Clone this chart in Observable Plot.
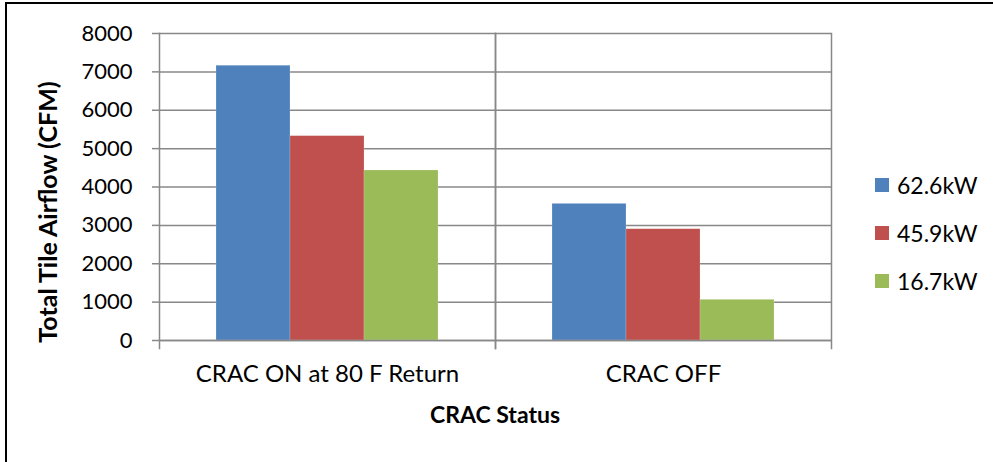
<!DOCTYPE html>
<html>
<head>
<meta charset="utf-8">
<script src="https://cdn.jsdelivr.net/npm/d3@7"></script>
<script src="https://cdn.jsdelivr.net/npm/@observablehq/plot@0.6"></script>
<style>
  html, body { margin: 0; padding: 0; background: #fff; }
  #wrap { position: relative; width: 993px; height: 462px; overflow: hidden; font-family: Lato, "Open Sans", sans-serif; }
  #border { position: absolute; left: 5px; top: 2px; width: 990px; height: 470px; border-left: 2px solid #000; border-top: 2px solid #000; }
  .ylab { position: absolute; left: 47px; top: 212px; transform: translate(-50%, -50%) rotate(-90deg); font-weight: bold; font-size: 25px; white-space: nowrap; color: #000; }
  .xlab { position: absolute; left: 495px; top: 414px; transform: translate(-50%, -50%); font-weight: bold; font-size: 23px; white-space: nowrap; color: #000; }
  .legend { position: absolute; left: 875px; font-size: 23px; color: #000; display: flex; align-items: center; }
  .legend span.sw { display: inline-block; width: 14px; height: 14px; margin-right: 8px; }
</style>
</head>
<body>
<div id="wrap">
  <div id="border"></div>
  <div id="chart"></div>
  <div class="ylab">Total Tile Airflow (CFM)</div>
  <div class="xlab">CRAC Status</div>
  <div id="legend"></div>
</div>
<script>
const categories = ["CRAC ON at 80 F Return", "CRAC OFF"];
const series = ["62.6kW", "45.9kW", "16.7kW"];
const colors = ["#4F81BD", "#C0504D", "#9BBB59"];
const values_626 = [7160, 3560];
const values_459 = [5325, 2900];
const values_167 = [4430, 1060];
const yTicks = [0, 1000, 2000, 3000, 4000, 5000, 6000, 7000, 8000];

const allValues = [values_626, values_459, values_167];
const data = [];
categories.forEach((c, i) => {
  series.forEach((s, j) => data.push({category: c, series: s, value: allValues[j][i]}));
});

const chart = Plot.plot({
  width: 993,
  height: 462,
  marginLeft: 159,
  marginRight: 162,
  marginTop: 33,
  marginBottom: 122,
  style: {fontFamily: "Lato, 'Open Sans', sans-serif", fontSize: "22px", color: "#000", background: "transparent"},
  fx: {domain: categories, padding: 0, label: null},
  x: {domain: series, paddingInner: 0, paddingOuter: 0.74, axis: null},
  y: {domain: [0, 8000], ticks: yTicks, label: null},
  color: {domain: series, range: colors},
  marks: [
    Plot.gridY(yTicks, {stroke: "#888", strokeOpacity: 1, strokeWidth: 1.5}),
    Plot.frame({anchor: "left", stroke: "#888", strokeWidth: 1.5, insetBottom: -8}),
    Plot.frame({anchor: "right", stroke: "#888", strokeWidth: 1.5, insetBottom: -8}),
    Plot.barY(data, {fx: "category", x: "series", y: "value", fill: "series", stroke: "#fff", strokeOpacity: 0.35, strokeWidth: 0.5}),
    Plot.ruleY([0], {stroke: "#888", strokeWidth: 1.5}),
    Plot.axisY({ticks: yTicks, tickSize: 7, tickPadding: 20, stroke: "#888", strokeWidth: 1.5, fontSize: 22, label: null, tickFormat: d => String(d)}),
    Plot.axisFx({anchor: "bottom", tickSize: 0, tickPadding: 24, fontSize: 24, label: null})
  ]
});
document.getElementById("chart").appendChild(chart);
chart.querySelectorAll("g[aria-label='y-axis tick label'] text, g[aria-label='fx-axis tick label'] text").forEach(t => t.setAttribute("fill", "#000"));

const lg = document.getElementById("legend");
const legendTops = [185, 233, 281];
series.forEach((s, i) => {
  const d = document.createElement("div");
  d.className = "legend";
  d.style.top = (legendTops[i] - 14) + "px";
  d.style.height = "28px";
  d.innerHTML = `<span class="sw" style="background:${colors[i]}"></span>${s}`;
  lg.appendChild(d);
});
</script>
</body>
</html>
